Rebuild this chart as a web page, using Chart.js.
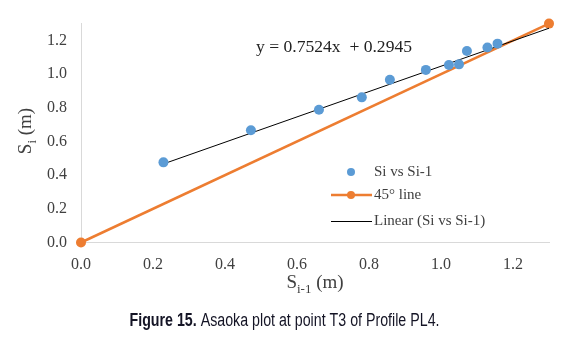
<!DOCTYPE html>
<html>
<head>
<meta charset="utf-8">
<script src="https://cdn.jsdelivr.net/npm/chart.js@4"></script>
<style>
  html, body { margin: 0; padding: 0; background: #fff; }
  #wrap { width: 574px; height: 355px; position: relative; }
</style>
</head>
<body>
<div id="wrap"><canvas id="c" width="574" height="355"></canvas></div>
<script>
// ---- Data ----
const siPrev = [0.229, 0.472, 0.661, 0.780, 0.858, 0.958, 1.022, 1.050, 1.072, 1.129, 1.157];
const siCurr = [0.476, 0.667, 0.788, 0.862, 0.967, 1.025, 1.054, 1.058, 1.137, 1.158, 1.181];
const lineX = [0.0, 1.3];
const lineY = [0.0, 1.3];
const trendSlope = 0.7524;
const trendIntercept = 0.2945;
const trendX = [0.229, 1.3];
const tickLabels = ['0.0', '0.2', '0.4', '0.6', '0.8', '1.0', '1.2'];
const seriesNames = ['Si vs Si-1', '45° line', 'Linear (Si vs Si-1)'];
const trendText = 'y = 0.7524x  + 0.2945';
const captionBold = 'Figure 15.';
const captionRest = ' Asaoka plot at point T3 of Profile PL4.';

const BLUE = '#5B9BD5';
const ORANGE = '#ED7D31';
const SERIF = '"Liberation Serif", "DejaVu Serif", serif';
const NARROW = '"Liberation Sans Narrow", "Liberation Sans", Roboto, sans-serif';
const TXT = '#404040';

const scatterData = siPrev.map((x, i) => ({ x: x, y: siCurr[i] }));
const diagData = lineX.map((x, i) => ({ x: x, y: lineY[i] }));
const trendData = trendX.map(x => ({ x: x, y: trendSlope * x + trendIntercept }));

function setTicks(scale) {
  scale.ticks = tickLabels.map(t => ({ value: Number(t) }));
}

const overlay = {
  id: 'overlay',
  afterDraw(chart) {
    const ctx = chart.ctx;
    ctx.save();
    // trendline equation
    ctx.fillStyle = '#222';
    ctx.font = '16px ' + SERIF;
    ctx.textBaseline = 'middle';
    ctx.textAlign = 'left';
    let w = ctx.measureText(trendText).width;
    ctx.save();
    ctx.translate(256, 48);
    ctx.scale(156 / w, 1);
    ctx.fillText(trendText, 0, 0);
    ctx.restore();

    // legend
    const lx = 374;
    const rows = [172, 195, 221.5];
    ctx.font = '15px ' + SERIF;
    ctx.fillStyle = TXT;
    seriesNames.forEach((n, i) => ctx.fillText(n, lx, rows[i]));
    ctx.fillStyle = BLUE;
    ctx.beginPath(); ctx.arc(351, rows[0], 4, 0, Math.PI * 2); ctx.fill();
    ctx.strokeStyle = ORANGE; ctx.lineWidth = 2.5;
    ctx.beginPath(); ctx.moveTo(331, rows[1]); ctx.lineTo(372, rows[1]); ctx.stroke();
    ctx.fillStyle = ORANGE;
    ctx.beginPath(); ctx.arc(351, rows[1], 4, 0, Math.PI * 2); ctx.fill();
    ctx.strokeStyle = '#000'; ctx.lineWidth = 1;
    ctx.beginPath(); ctx.moveTo(331, rows[2]); ctx.lineTo(372, rows[2]); ctx.stroke();

    // axis titles
    ctx.fillStyle = TXT;
    ctx.textBaseline = 'alphabetic';
    function subTitle(main, sub, rest) {
      ctx.font = '19px ' + SERIF;
      const w1 = ctx.measureText(main).width;
      ctx.font = '13px ' + SERIF;
      const w2 = ctx.measureText(sub).width;
      ctx.font = '19px ' + SERIF;
      const w3 = ctx.measureText(rest).width;
      const total = w1 + w2 + w3;
      let x = -total / 2;
      ctx.fillText(main, x, 0); x += w1;
      ctx.font = '13px ' + SERIF;
      ctx.fillText(sub, x, 5); x += w2;
      ctx.font = '19px ' + SERIF;
      ctx.fillText(rest, x, 0);
    }
    ctx.save();
    ctx.translate(315, 288);
    subTitle('S', 'i-1', ' (m)');
    ctx.restore();
    ctx.save();
    ctx.translate(31, 131);
    ctx.rotate(-Math.PI / 2);
    subTitle('S', 'i', ' (m)');
    ctx.restore();

    // caption
    ctx.fillStyle = '#141425';
    ctx.font = 'bold 18px ' + NARROW;
    const wb = ctx.measureText(captionBold).width;
    ctx.font = '18px ' + NARROW;
    const wr = ctx.measureText(captionRest).width;
    const sc = 310 / (wb + wr);
    ctx.save();
    ctx.translate(129.5, 326);
    ctx.scale(sc, 1);
    ctx.font = 'bold 18px ' + NARROW;
    ctx.fillText(captionBold, 0, 0);
    ctx.font = '18px ' + NARROW;
    ctx.fillText(captionRest, wb, 0);
    ctx.restore();
    ctx.restore();
  }
};

new Chart(document.getElementById('c'), {
  type: 'scatter',
  data: {
    datasets: [
      {
        label: seriesNames[0], data: scatterData, order: 0, clip: false,
        backgroundColor: BLUE, borderColor: BLUE, pointRadius: 5, pointHoverRadius: 5,
        pointBorderWidth: 0, showLine: false
      },
      {
        label: seriesNames[1], data: diagData, order: 2, clip: false,
        backgroundColor: ORANGE, borderColor: ORANGE, borderWidth: 2.5,
        pointRadius: 5, pointBorderWidth: 0, showLine: true
      },
      {
        label: seriesNames[2], data: trendData, order: 1, clip: false,
        borderColor: '#000', borderWidth: 1, pointRadius: 0, showLine: true
      }
    ]
  },
  options: {
    responsive: false,
    animation: false,
    devicePixelRatio: 1,
    layout: { padding: { left: 0, right: 25, top: 17, bottom: 72 } },
    plugins: { legend: { display: false }, tooltip: { enabled: false } },
    scales: {
      x: {
        type: 'linear', min: 0, max: 1.3,
        afterBuildTicks: setTicks,
        afterFit: s => { s.height = 40.5; },
        grid: { display: false, drawTicks: false },
        border: { display: true, color: '#d9d9d9', width: 1 },
        ticks: { padding: 13, color: TXT, font: { family: SERIF, size: 16 },
                 callback: v => Number(v).toFixed(1), maxRotation: 0, autoSkip: false }
      },
      y: {
        type: 'linear', min: 0, max: 1.3,
        afterBuildTicks: setTicks,
        afterFit: s => { s.width = 81; },
        grid: { display: false, drawTicks: false },
        border: { display: true, color: '#d9d9d9', width: 1 },
        ticks: { padding: 14, color: TXT, font: { family: SERIF, size: 16 },
                 callback: v => Number(v).toFixed(1), autoSkip: false }
      }
    }
  },
  plugins: [overlay]
});
</script>
</body>
</html>
